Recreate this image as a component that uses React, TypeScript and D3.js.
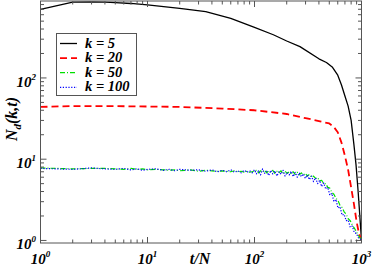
import * as React from "react";
import * as d3 from "d3";

const W = 374;
const H = 266;

// k = 5
const tK5 = [1, 2, 3, 4, 5, 7, 10, 20, 35, 60, 100, 150, 200, 266, 400, 470, 536, 600, 650, 700, 750, 800, 850, 889, 930, 960, 1000];
const vK5 = [700, 855, 860, 855, 845, 825, 795, 720, 655, 540, 420, 340, 285, 243, 172, 155, 135, 108, 82, 60, 45, 30, 15, 8.5, 4, 2.2, 1];

// k = 20
const tK20 = [1, 2, 3, 5, 10, 20, 50, 100, 200, 300, 400, 500, 550, 600, 650, 700, 750, 800, 850, 900, 950, 1000];
const vK20 = [44, 45, 45, 45, 44.5, 44, 42, 40, 36, 32, 29.5, 27.5, 25, 21.5, 16, 11, 7.4, 4.5, 2.8, 1.7, 1.2, 1];

// k = 50 and k = 100 share the same t grid
const tNoisy = [
  1, 2, 3, 4, 5, 6, 7, 8, 9, 10, 12, 14, 16, 18, 20, 25, 30, 35, 40, 45, 50, 55, 60, 65, 70, 75, 80, 85, 90, 95,
  100, 104, 109, 114, 119, 124, 130, 136, 142, 148, 155, 162, 169, 177, 185, 193, 202, 211, 220, 230,
  240, 251, 262, 274, 286, 299, 312, 326, 341, 356, 372, 389, 406, 424, 443, 463, 484, 506, 528, 552,
  577, 603, 630, 658, 688, 719, 751, 785, 820, 857, 895, 935, 977, 1000,
];
const vK50 = [
  7.8, 7.6, 7.7, 7.7, 7.6, 7.5, 7.7, 7.5, 7.6, 7.4, 7.5, 7.4, 7.3, 7.4, 7.2, 7.4, 7.1, 7.3, 7.2, 7.1, 7.2, 7.1, 7.0, 7.2, 7.0, 7.1, 6.9, 7.1, 6.9, 7.0,
  7.1, 7.3, 6.8, 7.2, 6.9, 7.3, 6.8, 7.2, 6.9, 7.3, 6.7, 7.1, 6.8, 7.2, 6.6, 7.1, 6.7, 7.0, 6.6, 7.0,
  6.5, 6.9, 6.4, 6.8, 6.4, 6.7, 6.2, 6.5, 6.0, 6.2, 5.8, 5.9, 5.4, 5.5, 5.0, 5.0, 4.5, 4.4, 3.9, 3.7,
  3.3, 3.1, 2.7, 2.55, 2.25, 2.1, 1.85, 1.75, 1.55, 1.42, 1.28, 1.15, 1.06, 1.02,
];
const vK100 = [
  7.7, 7.5, 7.8, 7.6, 7.5, 7.7, 7.4, 7.6, 7.3, 7.5, 7.6, 7.3, 7.5, 7.2, 7.5, 7.3, 7.4, 7.1, 7.4, 7.0, 7.3, 7.0, 7.4, 6.9, 7.2, 6.8, 7.3, 6.9, 7.2, 6.8,
  7.4, 6.6, 7.2, 6.4, 7.6, 6.7, 7.1, 6.3, 7.3, 6.6, 7.2, 6.2, 7.0, 6.5, 7.3, 6.2, 6.9, 6.4, 7.1, 6.1,
  6.9, 6.0, 6.8, 6.1, 6.6, 5.8, 6.4, 5.6, 6.2, 5.3, 5.9, 5.0, 5.5, 4.6, 5.1, 4.3, 4.5, 3.6, 3.8, 3.0,
  3.2, 2.5, 2.6, 2.05, 2.1, 1.75, 1.78, 1.45, 1.5, 1.25, 1.22, 1.08, 1.05, 1.0,
];

const legendLabels = ["k = 5", "k = 20", "k = 50", "k = 100"];
const xTickExps = [0, 1, 2, 3];
const yTickExps = [0, 1, 2];

const series = [
  { t: tK5, v: vK5, color: "#000000", width: 1.3, dash: "none" },
  { t: tK20, v: vK20, color: "#ff0000", width: 1.8, dash: "7,4" },
  { t: tNoisy, v: vK50, color: "#00e000", width: 1.2, dash: "5,2,1,2" },
  { t: tNoisy, v: vK100, color: "#0000ff", width: 1.2, dash: "1.2,1.6" },
];

const FONT = "'Liberation Serif', 'Times New Roman', serif";

export default function App() {
  const x = d3.scaleLog().domain([1, 1000]).range([40.5, 361.5]);
  const y = d3.scaleLog().domain([0.93, 885]).range([243, 1]);
  const [x0, x1] = x.range();
  const [y0, y1] = y.range();

  const line = d3
    .line<[number, number]>()
    .x((d) => x(d[0]))
    .y((d) => y(d[1]));

  const xTicks = x.ticks();
  const yTicks = y.ticks();
  const isMajor = (v: number) => Math.abs(Math.log10(v) - Math.round(Math.log10(v))) < 1e-9;
  const axisColor = "#555";

  return (
    <div style={{ position: "fixed", left: 0, top: 0 }}>
      <svg width={W} height={H} style={{ display: "block", background: "#fff" }}>
        <defs>
          <clipPath id="plot">
            <rect x={x0} y={y1} width={x1 - x0} height={y0 - y1} />
          </clipPath>
        </defs>

        {/* curves */}
        <g clipPath="url(#plot)" fill="none">
          {series.map((s, i) => (
            <path
              key={i}
              d={line(s.t.map((t, j) => [t, s.v[j]] as [number, number])) || ""}
              stroke={s.color}
              strokeWidth={s.width}
              strokeDasharray={s.dash}
              strokeLinejoin="round"
            />
          ))}
        </g>

        {/* frame */}
        <rect x={x0} y={y1} width={x1 - x0} height={y0 - y1} fill="none" stroke={axisColor} strokeWidth={1} />

        {/* x ticks (bottom and top, inward) */}
        {xTicks.map((t, i) => {
          const len = isMajor(t) ? 6 : 3.5;
          const px = x(t);
          return (
            <g key={"xt" + i} stroke={axisColor} strokeWidth={1}>
              <line x1={px} x2={px} y1={y0} y2={y0 - len} />
              <line x1={px} x2={px} y1={y1} y2={y1 + len} />
            </g>
          );
        })}

        {/* y ticks (left and right, inward) */}
        {yTicks.map((t, i) => {
          const len = isMajor(t) ? 6 : 3.5;
          const py = y(t);
          return (
            <g key={"yt" + i} stroke={axisColor} strokeWidth={1}>
              <line x1={x0} x2={x0 + len} y1={py} y2={py} />
              <line x1={x1} x2={x1 - len} y1={py} y2={py} />
            </g>
          );
        })}

        {/* x tick labels */}
        {xTickExps.map((e) => (
          <text
            key={"xl" + e}
            x={x(Math.pow(10, e))}
            y={264}
            textAnchor="middle"
            fontFamily={FONT}
            fontWeight="bold"
            fontStyle="italic"
            fontSize={15}
          >
            10
            <tspan fontSize={9} dy={-7}>
              {e}
            </tspan>
          </text>
        ))}

        {/* y tick labels */}
        {yTickExps.map((e) => (
          <text
            key={"yl" + e}
            x={36}
            y={y(Math.pow(10, e)) + 9}
            textAnchor="end"
            fontFamily={FONT}
            fontWeight="bold"
            fontStyle="italic"
            fontSize={15}
          >
            10
            <tspan fontSize={9} dy={-7}>
              {e}
            </tspan>
          </text>
        ))}

        {/* axis titles */}
        <text x={200} y={264} textAnchor="middle" fontFamily={FONT} fontWeight="bold" fontStyle="italic" fontSize={16}>
          t/N
        </text>
        <text
          transform="translate(17,119) rotate(-90)"
          textAnchor="middle"
          fontFamily={FONT}
          fontWeight="bold"
          fontStyle="italic"
          fontSize={16}
        >
          N
          <tspan fontSize={11} dy={4}>
            d
          </tspan>
          <tspan dy={-4}>(k,t)</tspan>
        </text>

        {/* legend */}
        <g>
          <rect x={56.5} y={33.5} width={80} height={62} fill="#fff" stroke={axisColor} strokeWidth={1} />
          {legendLabels.map((lab, i) => {
            const s = series[i];
            const ly = 43.5 + i * 14.6;
            return (
              <g key={lab}>
                <line
                  x1={60}
                  x2={77}
                  y1={ly}
                  y2={ly}
                  stroke={s.color}
                  strokeWidth={s.width}
                  strokeDasharray={s.dash}
                />
                <text
                  x={85}
                  y={ly + 4}
                  fontFamily={FONT}
                  fontWeight="bold"
                  fontStyle="italic"
                  fontSize={14.5}
                >
                  {lab}
                </text>
              </g>
            );
          })}
        </g>
      </svg>
    </div>
  );
}
